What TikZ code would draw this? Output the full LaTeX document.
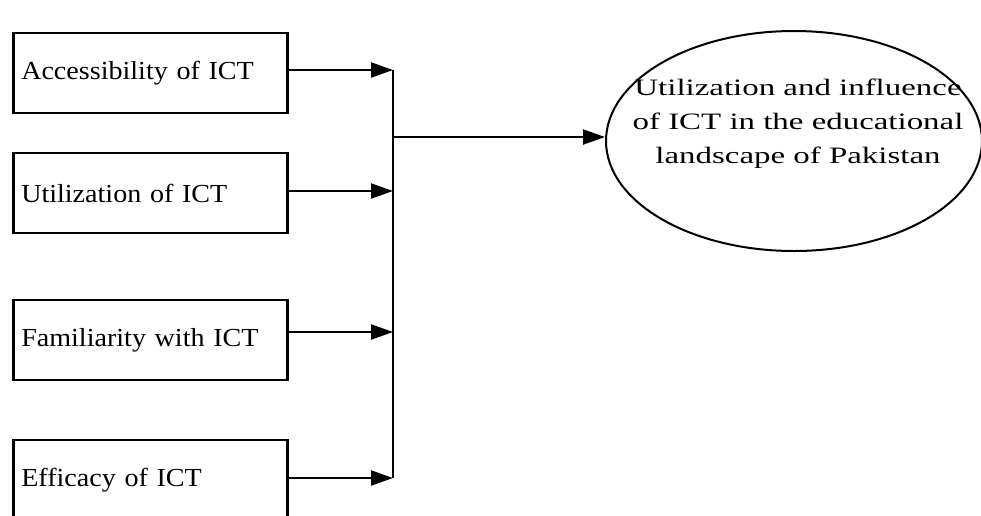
\documentclass[tikz,border=0pt]{standalone}
\usepackage{fontspec}
\setmainfont{Liberation Serif}
\newfontfamily\boxfont[FakeStretch=1.08]{Liberation Serif}
\newfontfamily\goalfont[FakeStretch=1.4]{Liberation Serif}
\usetikzlibrary{positioning, calc}
\usetikzlibrary{arrows.meta}
\usetikzlibrary{shapes}

\begin{document}
\begin{tikzpicture}[x=1pt,y=-1pt,->,>={Triangle[length=22pt,width=15pt]},line width=2pt,draw=black!100]
 	\def \boxleft{12}
 	\def \junction{393}
 	\tikzstyle{f-node}=[rectangle,draw=black!100,line width=2.5pt,minimum width=274pt,minimum height=80pt,inner xsep=8pt,text width=258pt,align=left,anchor=west,font=\boxfont\fontsize{26}{30}\selectfont]
 	\tikzstyle{goal-node}=[ellipse,draw=black!100,line width=2pt,minimum width=376pt,minimum height=220pt,inner sep=0pt]
 	\tikzstyle{goal-text}=[align=center,font=\goalfont\fontsize{23.5}{34}\selectfont]
 	\useasboundingbox (0,0) rectangle (981,515);

 	% factor boxes
 	\node[f-node] 	(access)	at (\boxleft,73)	{Accessibility of ICT};
 	\node[f-node] 	(util)	at (\boxleft,193)	{Utilization of ICT};
 	\node[f-node] 	(famil)	at (\boxleft,340)	{Familiarity with ICT};
 	\node[f-node] 	(effic)	at (\boxleft,480)	{Efficacy of ICT};

 	% outcome
 	\node[goal-node] 	(goal)	at (794,141)	{};
 	\node[goal-text] 	(goal-label)	at (798,124)	{Utilization and influence\\of ICT in the educational\\landscape of Pakistan};

 	% junction points
 	\coordinate (j-access)	at (\junction,70);
 	\coordinate (j-util)	at (\junction,191);
 	\coordinate (j-famil)	at (\junction,332);
 	\coordinate (j-effic)	at (\junction,478);
 	\coordinate (j-mid)	at (\junction,137);

 	\draw (access.east |- j-access)	--	(j-access);
 	\draw (util.east |- j-util)	--	(j-util);
 	\draw (famil.east |- j-famil)	--	(j-famil);
 	\draw (effic.east |- j-effic)	--	(j-effic);
 	\draw[-] (j-access)	--	(j-effic);
 	\draw (j-mid)	--	(goal.west |- j-mid);
\end{tikzpicture}
\end{document}
